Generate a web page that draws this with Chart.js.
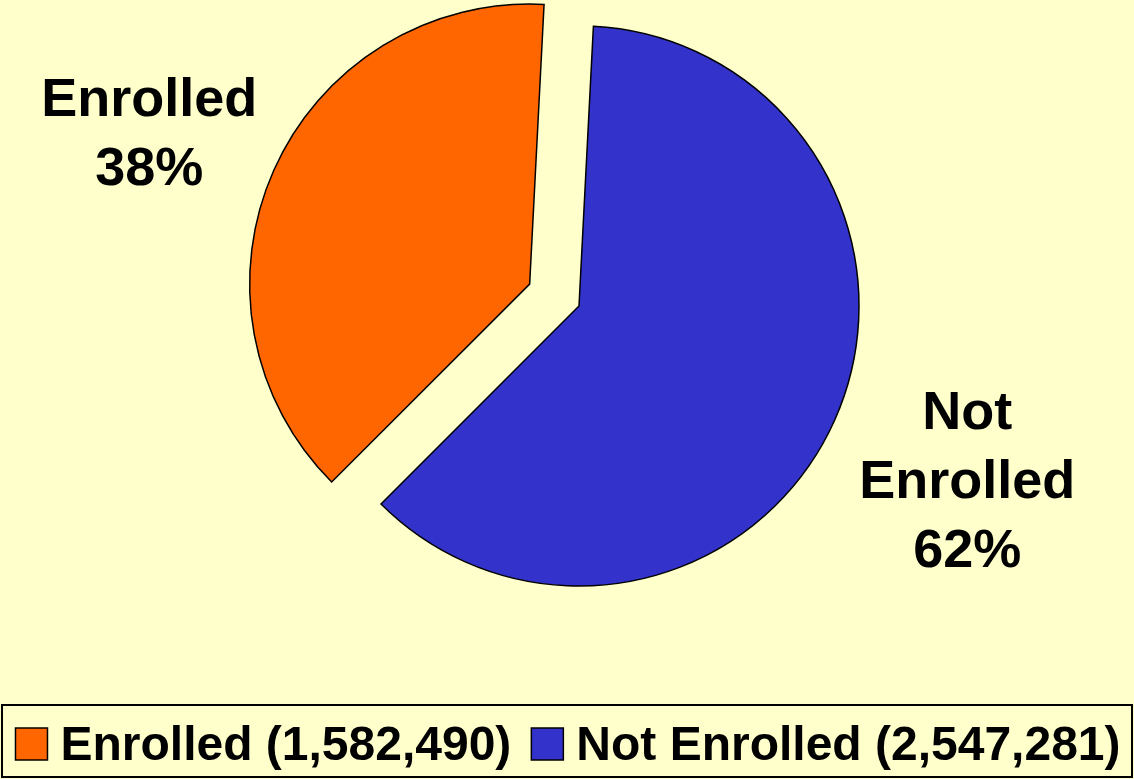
<!DOCTYPE html>
<html>
<head>
<meta charset="utf-8">
<title>Enrolled vs Not Enrolled</title>
<script src="https://cdn.jsdelivr.net/npm/chart.js@4.4.1/dist/chart.umd.min.js"></script>
<style>
    html, body { margin: 0; padding: 0; background: #FFFFCC; }
    #wrap { width: 1134px; height: 779px; position: relative; }
</style>
</head>
<body>
<div id="wrap"><canvas id="grafico"></canvas></div>
<script>
const categories = ['Enrolled', 'Not Enrolled'];
const totals = [1582490, 2547281];
const labelLines = [['Enrolled'], ['Not', 'Enrolled']]; // text over the pie, percent is added below

const sliceColors = ['#FF6600', '#3333CC'];
const FONT = '"Liberation Sans", Arial, sans-serif';

// pulls a slice out of the pie along its middle angle (true explode, not the hover offset)
const explode = {
    id: 'explode',
    afterDatasetUpdate(chart, args, opts) {
        const meta = chart.getDatasetMeta(args.index);
        meta.data.forEach((arc, i) => {
            const d = (opts.distance || [])[i] || 0;
            if (!d) return;
            const mid = (arc.startAngle + arc.endAngle) / 2;
            arc.x += Math.cos(mid) * d;
            arc.y += Math.sin(mid) * d;
        });
    }
};

const sliceLabels = {
    id: 'sliceLabels',
    afterDatasetsDraw(chart, args, opts) {
        const ctx = chart.ctx;
        const meta = chart.getDatasetMeta(0);
        const sum = totals.reduce((a, b) => a + b, 0);
        ctx.save();
        ctx.font = opts.font;
        ctx.fillStyle = '#000';
        ctx.textAlign = 'center';
        ctx.textBaseline = 'alphabetic';
        meta.data.forEach((arc, i) => {
            const lines = labelLines[i].concat(Math.round(totals[i] / sum * 100) + '%');
            const mid = (arc.startAngle + arc.endAngle) / 2 + (opts.turn[i] || 0) * Math.PI / 180;
            const r = arc.outerRadius + opts.distance[i];
            const cx = arc.x + Math.cos(mid) * r;
            const cy = arc.y + Math.sin(mid) * r;
            const h = opts.capHeight + (lines.length - 1) * opts.lineHeight;
            let y = cy - h / 2 + opts.capHeight;
            lines.forEach(t => { ctx.fillText(t, cx, y); y += opts.lineHeight; });
        });
        ctx.restore();
    }
};

// legend in a framed box at the bottom, like the original
const boxLegend = {
    id: 'boxLegend',
    afterDraw(chart, args, opts) {
        const { ctx, width } = chart;
        const ds = chart.data.datasets[0];
        ctx.save();
        ctx.font = opts.font;
        const items = chart.data.labels.map((lab, i) => ({
            text: `${lab} (${ds.data[i].toLocaleString('en-US')})`,
            color: ds.backgroundColor[i]
        }));
        const widths = items.map(it => opts.box + opts.gap + ctx.measureText(it.text).width);
        const total = widths.reduce((a, b) => a + b, 0) + opts.itemGap * (items.length - 1);

        ctx.strokeStyle = '#000';
        ctx.lineWidth = 2;
        ctx.strokeRect(2, opts.top, width - 4, opts.height);

        let x = (width - total) / 2 + 1;
        items.forEach((it, i) => {
            ctx.fillStyle = it.color;
            ctx.fillRect(x, opts.boxTop, opts.box, opts.box);
            ctx.lineWidth = 1.5;
            ctx.strokeRect(x, opts.boxTop, opts.box, opts.box);
            ctx.fillStyle = '#000';
            ctx.textBaseline = 'alphabetic';
            ctx.fillText(it.text, x + opts.box + opts.gap, opts.baseline);
            x += widths[i] + opts.itemGap;
        });
        ctx.restore();
    }
};

new Chart(document.getElementById('grafico'), {
    type: 'pie',
    data: {
        labels: categories,
        datasets: [{
            data: totals,
            backgroundColor: sliceColors,
            borderColor: '#000',
            borderWidth: 1.5,
            borderJoinStyle: 'miter',
            radius: 280,
            rotation: 225
        }]
    },
    options: {
        responsive: true,
        maintainAspectRatio: false,
        animation: false,
        layout: { padding: { left: 299, right: 275, top: 26, bottom: 193 } },
        plugins: {
            legend: { display: false },
            tooltip: { enabled: false },
            explode: { distance: [54, 0] },
            sliceLabels: { font: 'bold 54px ' + FONT, distance: [130, 145], turn: [-2.1, 0], capHeight: 39, lineHeight: 69 },
            boxLegend: { font: 'bold 48px ' + FONT, top: 705, height: 72, box: 32, boxTop: 728, gap: 13, itemGap: 20, baseline: 760 }
        }
    },
    plugins: [explode, sliceLabels, boxLegend]
});
</script>
</body>
</html>
